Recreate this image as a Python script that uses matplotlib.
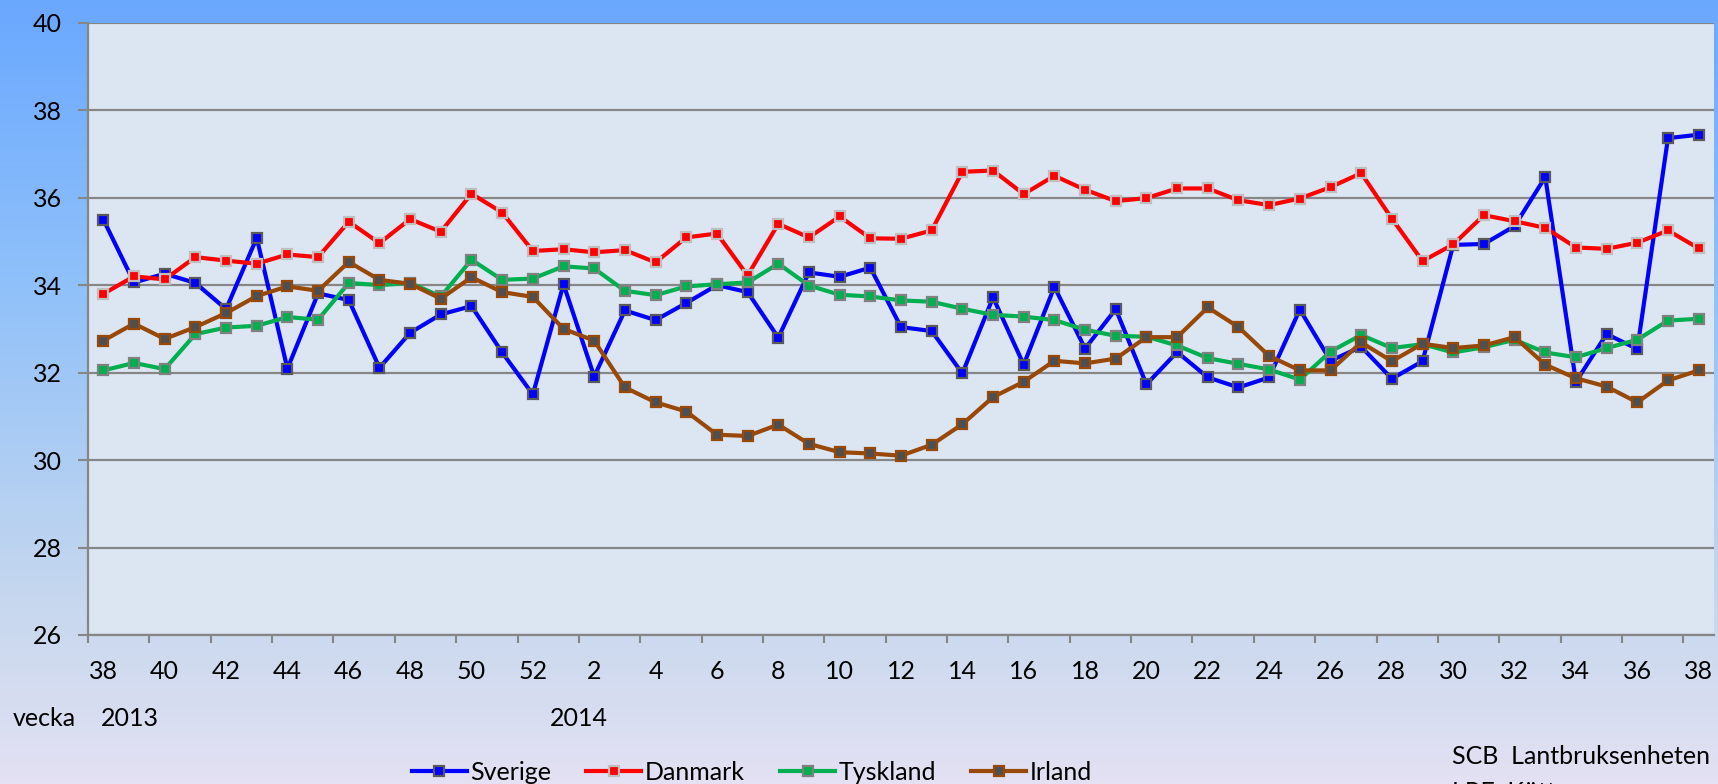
import numpy as np
import matplotlib
matplotlib.use("Agg")
import matplotlib.pyplot as plt
from matplotlib.colors import LinearSegmentedColormap

plt.rcParams['font.family'] = ['Lato', 'DejaVu Sans']

# veckor 38/2013 - 38/2014
weeks = list(range(38, 53)) + list(range(1, 39))

sverige = [35.50, 34.06, 34.26, 34.05, 33.45, 35.08, 32.09, 33.81, 33.66, 32.11,
           32.91, 33.33, 33.52, 32.46, 31.50, 34.02, 31.91, 33.42, 33.20, 33.59,
           34.00, 33.84, 32.80, 34.29, 34.19, 34.40, 33.04, 32.95, 31.98, 33.72,
           32.18, 33.96, 32.55, 33.45, 31.73, 32.47, 31.89, 31.66, 31.89, 33.44,
           32.27, 32.59, 31.86, 32.26, 34.92, 34.94, 35.35, 36.47, 31.79, 32.88,
           32.54, 37.36, 37.44]
danmark = [33.80, 34.20, 34.13, 34.64, 34.56, 34.49, 34.70, 34.64, 35.45, 34.96,
           35.51, 35.22, 36.09, 35.66, 34.78, 34.82, 34.75, 34.80, 34.52, 35.09,
           35.18, 34.22, 35.40, 35.09, 35.57, 35.07, 35.06, 35.25, 36.59, 36.62,
           36.08, 36.50, 36.18, 35.92, 35.99, 36.21, 36.21, 35.94, 35.83, 35.98,
           36.24, 36.56, 35.52, 34.55, 34.93, 35.60, 35.46, 35.31, 34.86, 34.83,
           34.97, 35.25, 34.84]
tyskland = [32.05, 32.22, 32.08, 32.88, 33.03, 33.07, 33.27, 33.21, 34.05, 34.00,
            34.05, 33.74, 34.58, 34.12, 34.15, 34.43, 34.38, 33.87, 33.77, 33.97,
            34.02, 34.06, 34.49, 33.99, 33.78, 33.74, 33.65, 33.62, 33.46, 33.32,
            33.28, 33.20, 32.98, 32.84, 32.82, 32.62, 32.33, 32.20, 32.07, 31.84,
            32.48, 32.86, 32.56, 32.65, 32.46, 32.58, 32.75, 32.46, 32.35, 32.56,
            32.75, 33.19, 33.23]
irland = [32.73, 33.12, 32.77, 33.04, 33.36, 33.75, 33.97, 33.87, 34.53, 34.12,
          34.03, 33.69, 34.18, 33.84, 33.73, 33.00, 32.73, 31.66, 31.32, 31.11,
          30.58, 30.55, 30.81, 30.37, 30.18, 30.15, 30.10, 30.35, 30.82, 31.44,
          31.79, 32.27, 32.21, 32.32, 32.81, 32.81, 33.49, 33.04, 32.38, 32.05,
          32.05, 32.69, 32.26, 32.66, 32.56, 32.62, 32.81, 32.18, 31.87, 31.68,
          31.32, 31.82, 32.05]

W, H = 1718, 784
fs = 18
fig = plt.figure(figsize=(W / 100, H / 100), dpi=100)

# bakgrund med gradient
bg = fig.add_axes([0, 0, 1, 1], zorder=-10)
cmap = LinearSegmentedColormap.from_list(
    "bg", [(0.0, "#6aa8ff"), (0.35, "#8ec0fa"), (0.78, "#c8d8ee"), (1.0, "#e3e1f3")])
grad = np.linspace(0, 1, 256).reshape(-1, 1)
bg.imshow(grad, aspect="auto", cmap=cmap, extent=[0, 1, 0, 1])
bg.axis("off")

ax = fig.add_axes([88 / W, 1 - 635 / H, (1714 - 88) / W, (635 - 22.7) / H])
ax.set_facecolor("#dce6f2")

x = np.arange(len(weeks))
series = [
    ("Sverige", sverige, "#0000ff", "#0000ff", "#5a5a5a"),
    ("Danmark", danmark, "#ff0000", "#ff0000", "#bfbfbf"),
    ("Tyskland", tyskland, "#00b050", "#00b050", "#808080"),
    ("Irland", irland, "#984807", "#4f4f4f", "#984807"),
]
for name, vals, col, mfc, mec in series:
    ax.plot(x, vals, color=col, lw=3, marker="s", ms=7.5, mfc=mfc, mec=mec,
            mew=1.6, label=name, zorder=3)

ax.set_ylim(26, 40)
ax.set_yticks(range(26, 41, 2))
ax.set_xlim(-0.5, len(weeks) - 0.5)
ax.set_xticks(x[::2])
ax.set_xticklabels([str(w) for w in weeks[::2]])
ax.set_xticks(np.arange(-0.5, len(weeks), 2), minor=True)
ax.tick_params(axis="x", which="major", length=0, pad=18, labelsize=fs)
ax.tick_params(axis="x", which="minor", length=6, width=1.5, color="#868686")
ax.tick_params(axis="y", length=7, width=1.5, color="#868686", pad=12, labelsize=fs)

ax.grid(axis="y", color="#868686", lw=1.6, zorder=1)
for s in ["top", "right"]:
    ax.spines[s].set_visible(False)
for s in ["left", "bottom"]:
    ax.spines[s].set_color("#868686")
    ax.spines[s].set_linewidth(1.6)

fig.text(13 / W, 1 - 719 / H, "vecka", fontsize=fs, va="center")
fig.text(101 / W, 1 - 719 / H, "2013", fontsize=fs, va="center")
fig.text(550 / W, 1 - 719 / H, "2014", fontsize=fs, va="center")
fig.text(1452 / W, 1 - 757 / H, "SCB  Lantbruksenheten", fontsize=fs, va="center")
fig.text(1452 / W, 1 - 793 / H, "LRF  Kött", fontsize=fs, va="center")

fig.legend(loc="center", bbox_to_anchor=(752 / W, 1 - 772 / H), ncol=4,
           frameon=False, fontsize=fs, handlelength=2.2, handletextpad=0.15,
           columnspacing=1.4, borderaxespad=0, borderpad=0)

fig.savefig("out.png", dpi=100)
